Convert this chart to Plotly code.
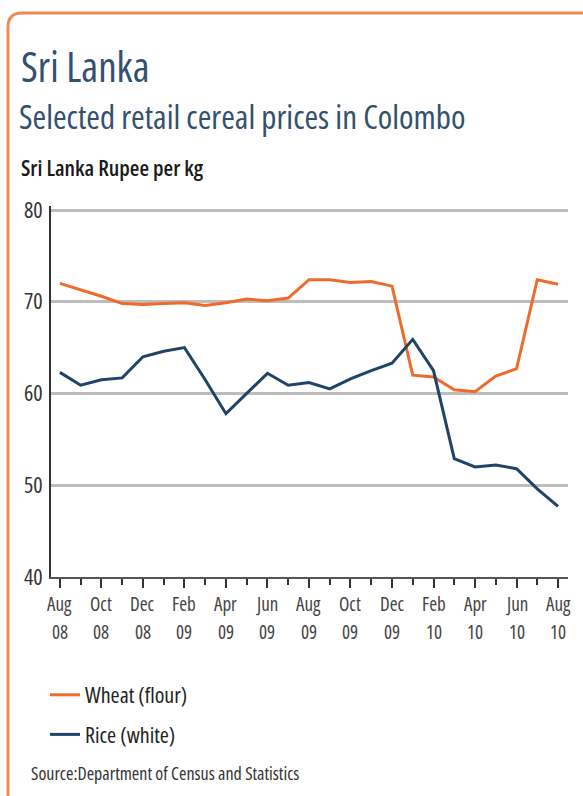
import plotly.graph_objects as go

months = list(range(25))
tick_months = ["Aug", "Oct", "Dec", "Feb", "Apr", "Jun", "Aug", "Oct", "Dec", "Feb", "Apr", "Jun", "Aug"]
tick_years = ["08", "08", "08", "09", "09", "09", "09", "09", "09", "10", "10", "10", "10"]
y_ticks = [40, 50, 60, 70, 80]
wheat = [72.0, 71.3, 70.6, 69.8, 69.7, 69.8, 69.9, 69.6, 69.9, 70.3, 70.1, 70.4,
         72.4, 72.4, 72.1, 72.2, 71.7, 62.0, 61.8, 60.4, 60.2, 61.9, 62.7, 72.4, 71.9]
rice = [62.3, 60.9, 61.5, 61.7, 64.0, 64.6, 65.0, 61.5, 57.8, 60.0, 62.2, 60.9,
        61.2, 60.5, 61.6, 62.5, 63.3, 65.9, 62.5, 52.9, 52.0, 52.2, 51.8, 49.6, 47.7]

ORANGE = "#EF6A2B"
NAVY = "#1F4468"
TITLE_C = "#33506F"
FONT = "Open Sans, DejaVu Sans Condensed, sans-serif"


def cond(s):
    return f'<span style="font-stretch:condensed">{s}</span>'


# plot area in pixels
L, R, T, B = 51, 568, 206, 577
W, H = 583, 796
Y0, Y80 = 577, 210
PX_PER_UNIT = (Y0 - Y80) / 40.0
YMAX = 40 + (B - T) / PX_PER_UNIT


def xp(px):
    return (px - L) / (R - L)


def yp(py):
    return (B - py) / (B - T)


fig = go.Figure()
fig.add_trace(go.Scatter(x=months, y=wheat, mode="lines", name=cond("Wheat (flour)"),
                         line=dict(color=ORANGE, width=3), legendgroup="w"))
fig.add_trace(go.Scatter(x=months, y=rice, mode="lines", name=cond("Rice (white)"),
                         line=dict(color=NAVY, width=3), legendgroup="r"))

tickvals = list(range(0, 25, 2))
ann = []
for v, m, yv in zip(tickvals, tick_months, tick_years):
    ann.append(dict(x=v, xref="x", y=yp(604), yref="paper", text=cond(m), showarrow=False,
                    font=dict(family=FONT, size=19, color="#444"), xanchor="center", yanchor="middle"))
    ann.append(dict(x=v, xref="x", y=yp(632), yref="paper", text=cond(yv), showarrow=False,
                    font=dict(family=FONT, size=19, color="#444"), xanchor="center", yanchor="middle"))

ann += [
    dict(x=xp(19), y=yp(66), xref="paper", yref="paper", text=cond("Sri Lanka"), showarrow=False,
         xanchor="left", yanchor="middle", font=dict(family=FONT, size=41, color=TITLE_C)),
    dict(x=xp(17), y=yp(116.5), xref="paper", yref="paper", text=cond("Selected retail cereal prices in Colombo"),
         showarrow=False, xanchor="left", yanchor="middle", font=dict(family=FONT, size=33, color=TITLE_C)),
    dict(x=xp(19), y=yp(167.5), xref="paper", yref="paper", text=cond("Sri Lanka Rupee per kg"), showarrow=False,
         xanchor="left", yanchor="middle", font=dict(family=FONT, size=22, color="#1a1a1a", weight=600)),
    dict(x=xp(29), y=yp(773), xref="paper", yref="paper", text=cond("Source:Department of Census and Statistics"),
         showarrow=False, xanchor="left", yanchor="middle", font=dict(family=FONT, size=18, color="#333")),
]

# rounded border
x0, x1 = xp(8), xp(640)
y0, y1 = yp(13), yp(812)
rx, ry = 14 / (R - L), 14 / (B - T)
path = (f"M {x0} {y1 + ry} L {x0} {y0 - ry} Q {x0} {y0} {x0 + rx} {y0} L {x1 - rx} {y0} "
        f"Q {x1} {y0} {x1} {y0 - ry} L {x1} {y1 + ry} Q {x1} {y1} {x1 - rx} {y1} "
        f"L {x0 + rx} {y1} Q {x0} {y1} {x0} {y1 + ry} Z")
shapes = [dict(type="path", path=path, xref="paper", yref="paper",
               line=dict(color="#F08A55", width=3), fillcolor="rgba(0,0,0,0)", layer="below")]

fig.update_layout(
    width=W, height=H,
    margin=dict(l=L, r=W - R, t=T, b=H - B),
    paper_bgcolor="white", plot_bgcolor="white",
    font=dict(family=FONT, color="#333"),
    showlegend=True,
    legend=dict(x=xp(45), y=yp(674), xanchor="left", yanchor="top", traceorder="grouped",
                tracegroupgap=8, font=dict(family=FONT, size=22, color="#222"),
                bgcolor="rgba(0,0,0,0)"),
    annotations=ann,
    shapes=shapes,
    xaxis=dict(range=[-0.43, 24.48], tickvals=tickvals, showticklabels=False,
               ticks="outside", ticklen=9, tickwidth=2, tickcolor="#333",
               minor=dict(ticks="outside", tick0=0, dtick=1, ticklen=6, tickwidth=2, tickcolor="#333"),
               showgrid=False, showline=True, linecolor="#555", linewidth=2, zeroline=False,
               fixedrange=True),
    yaxis=dict(range=[40, YMAX], tickvals=y_ticks, ticktext=[cond(str(v)) for v in y_ticks],
               showgrid=True, gridcolor="#BDBDBD",
               gridwidth=3, showline=True, linecolor="#333", linewidth=2, ticks="",
               tickfont=dict(family=FONT, size=22, color="#333"), ticklabelstandoff=2,
               zeroline=False, fixedrange=True),
)

fig.write_html("out.html", config={"displayModeBar": False},
               post_script="document.body.style.margin='0px';")
